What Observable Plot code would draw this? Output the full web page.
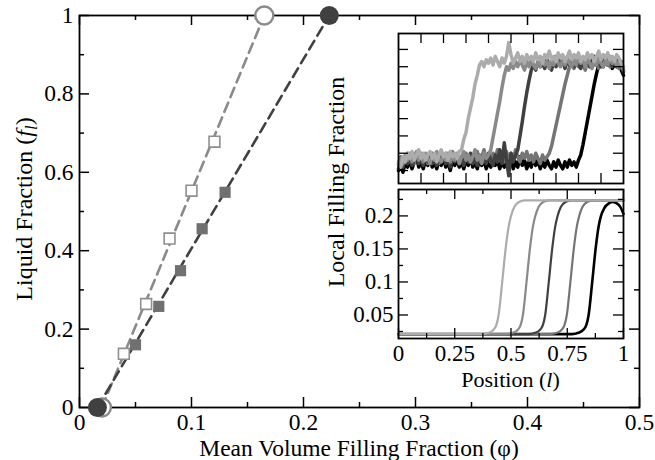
<!DOCTYPE html>
<html><head><meta charset="utf-8">
<script src="https://cdn.jsdelivr.net/npm/d3@7"></script>
<script src="https://cdn.jsdelivr.net/npm/@observablehq/plot@0.6"></script>
<style>
body{margin:0;background:#fff;}
#wrap{position:relative;width:655px;height:460px;overflow:hidden;}
#wrap svg{position:absolute;}
</style></head><body><div id="wrap"></div>
<script>
// ---------- main plot data ----------
const mainXTicks = [0, 0.1, 0.2, 0.3, 0.4, 0.5];
const mainXTickLabels = ["0", "0.1", "0.2", "0.3", "0.4", "0.5"];
const mainXMinor = [0.05, 0.15, 0.25, 0.35, 0.45];
const mainYTicks = [0, 0.2, 0.4, 0.6, 0.8, 1];
const mainYTickLabels = ["0", "0.2", "0.4", "0.6", "0.8", "1"];
const mainYMinor = [0.1, 0.3, 0.5, 0.7, 0.9];

const lightLineX = [0.02, 0.165];
const lightLineY = [0, 1];
const darkLineX = [0.016, 0.223];
const darkLineY = [0, 1];
const openSqX = [0.0396, 0.0595, 0.0804, 0.100, 0.1205];
const openSqY = [0.137, 0.264, 0.431, 0.553, 0.678];
const fillSqX = [0.050, 0.0708, 0.0902, 0.1095, 0.130];
const fillSqY = [0.160, 0.258, 0.349, 0.456, 0.549];
const openCircX = [0.020, 0.165];
const openCircY = [0, 1];
const fillCircX = [0.016, 0.223];
const fillCircY = [0, 1];

// ---------- top inset (noisy profiles) ----------
const topXTicks = [0.1, 0.2, 0.3, 0.4, 0.5, 0.6, 0.7, 0.8, 0.9];
const topYTicks = [0, 0.1, 0.2, 0.3, 0.4, 0.5, 0.6, 0.7];
const topX = d3.range(101).map(i => i / 100);
const topA = [0.05,0.02,0.08,0.05,0.10,0.07,0.11,0.06,0.09,0.12,0.07,0.10,0.06,0.09,0.11,0.07,0.10,0.05,0.09,0.12,
  0.08,0.10,0.06,0.11,0.08,0.10,0.07,0.11,0.12,0.18,0.22,0.30,0.36,0.42,0.50,0.55,0.61,0.63,0.60,0.64,
  0.62,0.65,0.61,0.66,0.63,0.60,0.65,0.62,0.66,0.74,0.67,0.62,0.65,0.68,0.63,0.66,0.62,0.67,0.64,0.66,
  0.63,0.68,0.64,0.66,0.62,0.67,0.65,0.69,0.64,0.66,0.63,0.68,0.65,0.67,0.63,0.66,0.69,0.64,0.67,0.65,
  0.68,0.63,0.66,0.64,0.68,0.65,0.67,0.63,0.66,0.69,0.64,0.67,0.65,0.68,0.64,0.66,0.63,0.67,0.65,0.62,0.60];
const topB = [0.03,0.07,0.04,0.09,0.06,0.10,0.05,0.08,0.11,0.06,0.09,0.05,0.10,0.07,0.04,0.09,0.06,0.11,0.07,0.05,
  0.09,0.06,0.10,0.05,0.08,0.06,0.10,0.04,0.08,0.11,0.06,0.09,0.05,0.08,0.12,0.06,0.09,0.04,0.10,0.07,
  0.09,0.12,0.19,0.26,0.33,0.40,0.48,0.55,0.60,0.58,0.62,0.59,0.63,0.60,0.64,0.61,0.58,0.63,0.60,0.64,
  0.61,0.59,0.63,0.60,0.65,0.61,0.63,0.59,0.64,0.61,0.66,0.62,0.60,0.64,0.61,0.65,0.62,0.60,0.64,0.61,
  0.66,0.62,0.64,0.60,0.65,0.62,0.59,0.64,0.61,0.65,0.62,0.60,0.64,0.61,0.66,0.62,0.64,0.60,0.63,0.61,0.58];
const topC = [0.01,0.05,0.02,0.07,0.04,0.08,0.03,0.06,0.09,0.04,0.07,0.03,0.08,0.05,0.09,0.04,0.07,0.03,0.08,0.05,
  0.09,0.04,0.06,0.02,0.07,0.05,0.09,0.04,0.07,0.03,0.08,0.05,0.10,0.04,0.07,0.03,0.09,0.05,0.08,0.04,
  0.10,0.06,0.03,0.09,0.05,0.12,0.04,0.16,0.06,-0.03,0.10,0.05,0.09,0.12,0.20,0.28,0.37,0.45,0.52,0.58,
  0.61,0.58,0.63,0.60,0.62,0.59,0.64,0.61,0.58,0.63,0.60,0.65,0.61,0.63,0.59,0.64,0.61,0.63,0.60,0.65,
  0.62,0.59,0.63,0.61,0.65,0.60,0.63,0.66,0.61,0.64,0.60,0.63,0.65,0.61,0.64,0.60,0.63,0.66,0.61,0.63,0.57];
const topD = [0.04,0.08,0.03,0.07,0.10,0.05,0.08,0.04,0.09,0.06,0.10,0.05,0.08,0.04,0.07,0.10,0.05,0.08,0.04,0.09,
  0.06,0.10,0.05,0.08,0.11,0.06,0.09,0.05,0.08,0.04,0.10,0.07,0.05,0.09,0.06,0.11,0.05,0.08,0.12,0.06,
  0.09,0.05,0.10,0.07,0.12,0.06,0.09,0.05,0.11,0.07,0.10,0.06,0.12,0.08,0.05,0.10,0.07,0.11,0.06,0.09,
  0.05,0.10,0.07,0.04,0.09,0.06,0.08,0.10,0.14,0.20,0.26,0.32,0.38,0.44,0.50,0.55,0.60,0.62,0.59,0.63,
  0.60,0.64,0.61,0.58,0.63,0.60,0.65,0.61,0.63,0.59,0.64,0.61,0.66,0.62,0.60,0.64,0.61,0.63,0.59,0.62,0.58];
const topE = [0.00,0.04,-0.01,0.05,0.02,0.06,0.01,0.05,0.08,0.02,0.05,0.01,0.06,0.03,0.07,0.02,0.05,0.01,0.06,0.03,
  0.08,0.02,0.05,0.00,0.06,0.03,0.07,0.02,0.05,0.01,0.06,0.03,0.08,0.02,0.05,0.01,0.07,0.03,0.06,0.01,
  0.05,0.02,0.07,0.03,0.06,0.01,0.05,0.02,0.07,0.03,0.06,0.01,0.05,0.02,0.08,0.03,0.06,0.01,0.05,0.02,
  0.07,0.03,0.06,0.01,0.05,0.02,0.06,0.03,0.01,0.05,0.02,0.06,0.03,0.01,0.05,0.02,0.06,0.03,0.05,0.02,
  0.06,0.09,0.15,0.22,0.29,0.36,0.43,0.50,0.56,0.61,0.63,0.60,0.64,0.61,0.63,0.59,0.62,0.60,0.63,0.58,0.55];

// ---------- bottom inset (smooth profiles) ----------
const botXTicks = [0, 0.25, 0.5, 0.75, 1];
const botXTickLabels = ["0", "0.25", "0.5", "0.75", "1"];
const botXMinor = [0.125, 0.375, 0.625, 0.875];
const botYTicks = [0.05, 0.1, 0.15, 0.2];
const botYTickLabels = ["0.05", "0.1", "0.15", "0.2"];
const botYMinor = [0.025, 0.075, 0.125, 0.175, 0.225];

const prof1X = [0, 0.37, 0.40, 0.42, 0.435, 0.445, 0.461, 0.476, 0.49, 0.50, 0.515, 0.535, 0.56, 0.60, 1];
const prof1Y = [0.021, 0.021, 0.023, 0.027, 0.035, 0.05, 0.10, 0.15, 0.185, 0.20, 0.214, 0.221, 0.2235, 0.2235, 0.2235];
const prof2X = [0, 0.478, 0.508, 0.528, 0.543, 0.553, 0.569, 0.584, 0.598, 0.608, 0.623, 0.643, 0.668, 0.71, 1];
const prof2Y = [0.021, 0.021, 0.023, 0.027, 0.035, 0.05, 0.10, 0.15, 0.185, 0.20, 0.214, 0.221, 0.2235, 0.2235, 0.2235];
const prof3X = [0, 0.577, 0.607, 0.627, 0.642, 0.652, 0.668, 0.683, 0.697, 0.707, 0.722, 0.742, 0.767, 0.81, 1];
const prof3Y = [0.021, 0.021, 0.023, 0.027, 0.035, 0.05, 0.10, 0.15, 0.185, 0.20, 0.214, 0.221, 0.2235, 0.2235, 0.2235];
const prof4X = [0, 0.673, 0.703, 0.723, 0.738, 0.748, 0.764, 0.779, 0.793, 0.803, 0.818, 0.838, 0.863, 0.90, 1];
const prof4Y = [0.021, 0.021, 0.023, 0.027, 0.035, 0.05, 0.10, 0.15, 0.185, 0.20, 0.214, 0.221, 0.2235, 0.2235, 0.2235];
const prof5X = [0, 0.77, 0.80, 0.82, 0.835, 0.845, 0.861, 0.876, 0.89, 0.90, 0.915, 0.935, 0.95, 0.97, 0.985, 1];
const prof5Y = [0.021, 0.021, 0.023, 0.027, 0.035, 0.05, 0.10, 0.15, 0.185, 0.20, 0.212, 0.219, 0.221, 0.219, 0.214, 0.203];

const profColors = ["#acacac", "#8a8a8a", "#404040", "#757575", "#000000"];

// ---------- labels ----------
const xTitle = "Mean Volume Filling Fraction (\u03C6)";
const yTitle = ["Liquid Fraction (", "f", "l", ")"];
const insetYTitle = "Local Filling Fraction";
const insetXTitle = ["Position (", "l", ")"];

const FONT = "Liberation Serif, Times New Roman, serif";

function inwardTicks(xMaj, xMin, yMaj, yMin, innerW, innerH, lenMaj, lenMin, sw) {
  const m = [];
  const o = {stroke: "black", strokeWidth: sw};
  for (const [v, len] of [[xMaj, lenMaj], [xMin, lenMin]]) {
    if (!v.length) continue;
    m.push(Plot.tickX(v, {x: d => d, insetTop: innerH - len, ...o}));
    m.push(Plot.tickX(v, {x: d => d, insetBottom: innerH - len, ...o}));
  }
  for (const [v, len] of [[yMaj, lenMaj], [yMin, lenMin]]) {
    if (!v.length) continue;
    m.push(Plot.tickY(v, {y: d => d, insetRight: innerW - len, ...o}));
    m.push(Plot.tickY(v, {y: d => d, insetLeft: innerW - len, ...o}));
  }
  return m;
}

const wrap = document.getElementById("wrap");

// ---------- main plot ----------
const mW = 655, mH = 460, mL = 79, mR = 16, mT = 15, mB = 53;
const main = Plot.plot({
  width: mW, height: mH,
  marginLeft: mL, marginRight: mR, marginTop: mT, marginBottom: mB,
  x: {domain: [0, 0.5]},
  y: {domain: [0, 1]},
  style: {fontFamily: FONT, fontSize: "23.5px", background: "white", color: "black", overflow: "visible"},
  marks: [
    ...inwardTicks(mainXTicks, mainXMinor, mainYTicks, mainYMinor, mW - mL - mR, mH - mT - mB, 10, 5, 1.5),
    Plot.frame({stroke: "black", strokeWidth: 1.8}),
    Plot.axisX(mainXTicks, {tickSize: 0, tickPadding: 5.5, tickFormat: d => mainXTickLabels[mainXTicks.indexOf(d)], label: null}),
    Plot.axisY(mainYTicks, {tickSize: 0, tickPadding: 6, tickFormat: d => mainYTickLabels[mainYTicks.indexOf(d)], label: null}),
    Plot.line({length: lightLineX.length}, {x: lightLineX, y: lightLineY, stroke: "#8a8a8a", strokeWidth: 2.6, strokeDasharray: "10,6"}),
    Plot.line({length: darkLineX.length}, {x: darkLineX, y: darkLineY, stroke: "#404040", strokeWidth: 2.6, strokeDasharray: "10,6"}),
    Plot.dot({length: openSqX.length}, {x: openSqX, y: openSqY, symbol: "square", r: 6.1, stroke: "#8f8f8f", fill: "white", strokeWidth: 1.6}),
    Plot.dot({length: fillSqX.length}, {x: fillSqX, y: fillSqY, symbol: "square", r: 6.3, fill: "#707070", stroke: "none"}),
    Plot.dot({length: openCircX.length}, {x: openCircX, y: openCircY, r: 9, stroke: "#8a8a8a", fill: "white", strokeWidth: 2.4}),
    Plot.dot({length: fillCircX.length}, {x: fillCircX, y: fillCircY, r: 9.5, fill: "#404040", stroke: "none"})
  ]
});
main.style.left = "0px"; main.style.top = "0px";
wrap.appendChild(main);

const ms = d3.select(main);
ms.append("text").attr("x", (mL + mW - mR) / 2).attr("y", 456).attr("text-anchor", "middle")
  .attr("font-size", 23.5).attr("fill", "black").text(xTitle);
{
  const t = ms.append("text").attr("transform", "translate(32,209) rotate(-90)").attr("text-anchor", "middle")
    .attr("font-size", 24).attr("fill", "black");
  t.append("tspan").text(yTitle[0]);
  t.append("tspan").attr("font-style", "italic").text(yTitle[1]);
  t.append("tspan").attr("font-style", "italic").attr("font-size", 17).attr("dy", 5).text(yTitle[2]);
  t.append("tspan").attr("dy", -5).text(yTitle[3]);
}
ms.append("text").attr("transform", "translate(344,182) rotate(-90)").attr("text-anchor", "middle")
  .attr("font-size", 24).attr("fill", "black").text(insetYTitle);

// ---------- top inset ----------
{
  const w = 229, h = 154, m = 2;
  const topSeries = [topE, topD, topC, topB, topA];
  const topCols = [profColors[4], profColors[3], profColors[2], profColors[1], profColors[0]];
  const p = Plot.plot({
    width: w, height: h, margin: m,
    x: {domain: [0, 1], axis: null},
    y: {domain: [-0.075, 0.792], axis: null},
    style: {background: "transparent", overflow: "visible"},
    marks: [
      Plot.frame({fill: "white", stroke: "none"}),
      ...topSeries.map((s, k) => Plot.line(topX, {x: d => d, y: s, stroke: topCols[k], strokeWidth: 3.5})),
      ...inwardTicks(topXTicks, [], topYTicks, [], w - 2 * m, h - 2 * m, 10, 5, 1.3),
      Plot.frame({stroke: "black", strokeWidth: 1.8})
    ]
  });
  p.style.left = "396px"; p.style.top = "31px";
  wrap.appendChild(p);
}

// ---------- bottom inset ----------
{
  const left = 330, top = 187, w = 295, h = 205, mLi = 68, mRi = 2, mTi = 2, mBi = 54;
  const profs = [[prof5X, prof5Y, 4], [prof4X, prof4Y, 3], [prof3X, prof3Y, 2], [prof2X, prof2Y, 1], [prof1X, prof1Y, 0]];
  const p = Plot.plot({
    width: w, height: h, marginLeft: mLi, marginRight: mRi, marginTop: mTi, marginBottom: mBi,
    x: {domain: [0, 1]},
    y: {domain: [0.0144, 0.240]},
    style: {fontFamily: FONT, fontSize: "23px", background: "transparent", color: "black", overflow: "visible"},
    marks: [
      Plot.frame({fill: "white", stroke: "none"}),
      ...profs.map(([px, py, c]) => Plot.line({length: px.length}, {x: px, y: py, stroke: profColors[c], strokeWidth: c === 4 ? 2.6 : 2.2, curve: "monotone-x"})),
      ...inwardTicks(botXTicks, botXMinor, botYTicks, botYMinor, w - mLi - mRi, h - mTi - mBi, 10, 5, 1.3),
      Plot.frame({stroke: "black", strokeWidth: 1.8}),
      Plot.axisX(botXTicks, {tickSize: 0, tickPadding: 6.5, tickFormat: d => botXTickLabels[botXTicks.indexOf(d)], label: null}),
      Plot.axisY(botYTicks, {tickSize: 0, tickPadding: 5, tickFormat: d => botYTickLabels[botYTicks.indexOf(d)], label: null})
    ]
  });
  p.style.left = left + "px"; p.style.top = top + "px";
  wrap.appendChild(p);
  const t = d3.select(p).append("text").attr("x", mLi + (w - mLi - mRi) / 2).attr("y", 387 - top)
    .attr("text-anchor", "middle").attr("font-size", 22).attr("fill", "black");
  t.append("tspan").text(insetXTitle[0]);
  t.append("tspan").attr("font-style", "italic").text(insetXTitle[1]);
  t.append("tspan").text(insetXTitle[2]);
}
</script></body></html>
